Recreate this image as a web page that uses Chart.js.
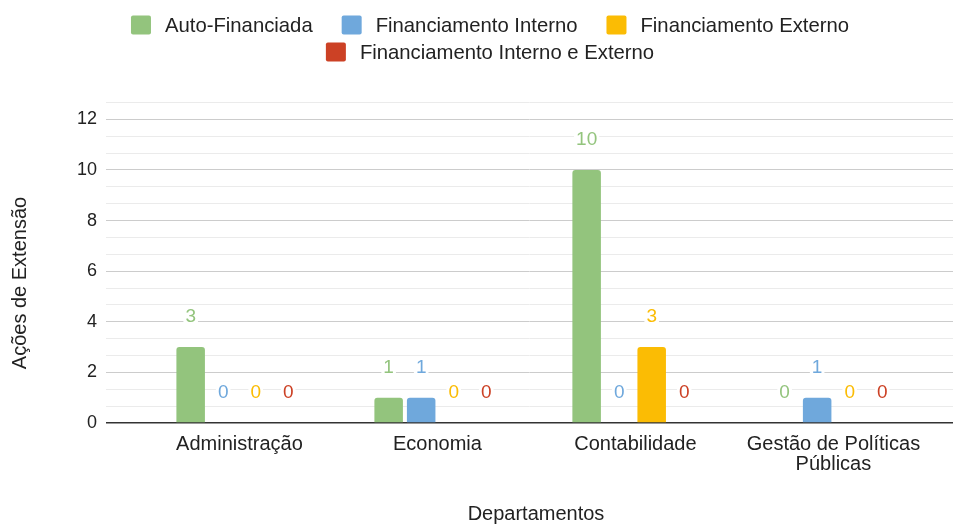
<!DOCTYPE html>
<html><head><meta charset="utf-8">
<script src="https://cdn.jsdelivr.net/npm/chart.js@4/dist/chart.umd.min.js"></script>
<style>html,body{margin:0;padding:0;background:#fff}#wrap{width:953px;height:524px;position:relative}canvas{display:block}</style>
</head><body><div id="wrap"><canvas id="c" width="953" height="524"></canvas></div>
<script>
const categories = [['Administração'], ['Economia'], ['Contabilidade'], ['Gestão de Políticas', 'Públicas']];
const seriesNames = ['Auto-Financiada', 'Financiamento Interno', 'Financiamento Externo', 'Financiamento Interno e Externo'];
const autoFinanciada = [3, 1, 10, 0];
const financiamentoInterno = [0, 1, 0, 1];
const financiamentoExterno = [0, 0, 3, 0];
const financiamentoInternoExterno = [0, 0, 0, 0];
const yTickLabels = [0, 2, 4, 6, 8, 10, 12];
const yAxisTitle = 'Ações de Extensão';
const xAxisTitle = 'Departamentos';
const colors = ['#93c47d', '#6fa8dc', '#fbbc04', '#cc4125'];

const seriesValues = [autoFinanciada, financiamentoInterno, financiamentoExterno, financiamentoInternoExterno];
const FONT = '"Liberation Sans", Arial, sans-serif';
const TEXT = '#222222';

const datasets = seriesValues.map((vals, i) => ({
  label: seriesNames[i],
  data: vals.map((v, j) => ({x: j, y: v})),
  backgroundColor: colors[i],
  borderRadius: 3,
  categoryPercentage: 0.657,
  barPercentage: 0.877
}));

const yMax = 38 / 3;
const yStep = 2 / 3;
const isMajor = v => yTickLabels.some(t => Math.abs(t - v) < 1e-6);

const labelPlugin = {
  id: 'valueLabels',
  afterDatasetsDraw(chart) {
    const ctx = chart.ctx;
    ctx.save();
    ctx.font = '19px ' + FONT;
    ctx.textAlign = 'center';
    ctx.textBaseline = 'middle';
    chart.data.datasets.forEach((ds, i) => {
      const meta = chart.getDatasetMeta(i);
      meta.data.forEach((bar, j) => {
        const txt = String(seriesValues[i][j]);
        const x = bar.x, y = bar.y - 31;
        const w = ctx.measureText(txt).width;
        ctx.fillStyle = '#ffffff';
        ctx.fillRect(x - w / 2 - 2, y - 9, w + 4, 18);
        ctx.fillStyle = colors[i];
        ctx.fillText(txt, x, y + 1);
      });
    });
    ctx.restore();
  }
};

const legendRows = [[0, 1, 2], [3]];
const decorPlugin = {
  id: 'decor',
  afterDraw(chart) {
    const ctx = chart.ctx;
    ctx.save();
    // legend
    ctx.font = '20.3px ' + FONT;
    ctx.textBaseline = 'middle';
    ctx.textAlign = 'left';
    const boxW = 20, boxH = 19, gapText = 14, gapItem = 29, cx = 490;
    const rowY = [25, 52];
    legendRows.forEach((row, r) => {
      const widths = row.map(i => boxW + gapText + ctx.measureText(seriesNames[i]).width);
      const total = widths.reduce((a, b) => a + b, 0) + gapItem * (row.length - 1);
      let x = cx - total / 2;
      row.forEach((i, k) => {
        ctx.fillStyle = colors[i];
        ctx.beginPath();
        ctx.roundRect(x, rowY[r] - boxH / 2, boxW, boxH, 2);
        ctx.fill();
        ctx.fillStyle = TEXT;
        ctx.fillText(seriesNames[i], x + boxW + gapText, rowY[r] + 1);
        x += widths[k] + gapItem;
      });
    });
    // axis titles
    ctx.font = '20px ' + FONT;
    ctx.fillStyle = TEXT;
    ctx.textAlign = 'center';
    ctx.fillText(xAxisTitle, 536, 514);
    ctx.translate(20, 283);
    ctx.rotate(-Math.PI / 2);
    ctx.fillText(yAxisTitle, 0, 0);
    ctx.restore();
  }
};

new Chart(document.getElementById('c'), {
  type: 'bar',
  data: {datasets},
  options: {
    responsive: false,
    animation: false,
    devicePixelRatio: 1,
    layout: {padding: {top: 102.5, left: 0, right: 0, bottom: 0}},
    plugins: {legend: {display: false}, tooltip: {enabled: false}},
    scales: {
      x: {
        type: 'linear',
        offset: false,
        min: -0.674,
        max: 3.604,
        grid: {display: false},
        border: {display: false},
        ticks: {
          autoSkip: false,
          maxRotation: 0,
          padding: 3,
          color: TEXT,
          font: {family: FONT, size: 20, lineHeight: 1.0},
          callback: v => categories[v]
        },
        afterBuildTicks: s => { s.ticks = categories.map((_, i) => ({value: i})); },
        afterFit: s => { s.height = 101; }
      },
      y: {
        type: 'linear',
        min: 0,
        max: yMax,
        border: {display: false},
        grid: {
          drawTicks: false,
          color: c => {
            const v = c.tick.value;
            if (Math.abs(v) < 1e-6) return '#333333';
            return isMajor(v) ? '#cccccc' : '#ebebeb';
          },
          lineWidth: c => Math.abs(c.tick.value) < 1e-6 ? 1.5 : 1
        },
        ticks: {
          autoSkip: false,
          padding: 9,
          color: TEXT,
          font: {family: FONT, size: 18},
          callback: v => isMajor(v) ? String(Math.round(v)) : ''
        },
        afterBuildTicks: s => {
          const t = [];
          for (let i = 0; i * yStep <= yMax + 1e-9; i++) t.push({value: i * yStep});
          s.ticks = t;
        },
        afterFit: s => { s.width = 106; }
      }
    }
  },
  plugins: [labelPlugin, decorPlugin]
});
</script>
</body></html>
